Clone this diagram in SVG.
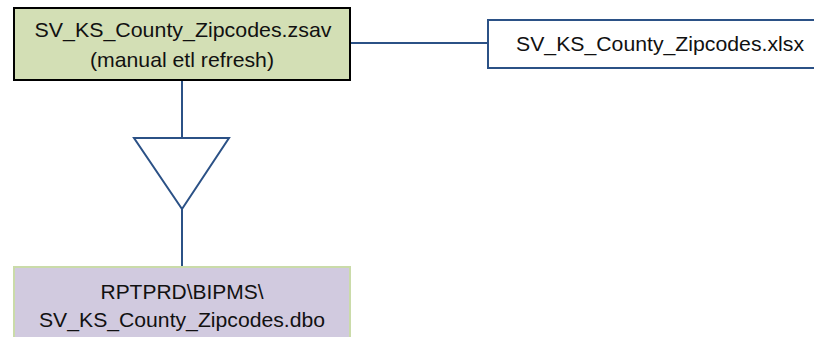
<svg xmlns="http://www.w3.org/2000/svg" width="814" height="337" viewBox="0 0 814 337">
<style>
text{font-family:"Liberation Sans",Arial,sans-serif;font-size:21px;fill:#111;text-anchor:middle}
.conn{stroke:#2B5186;stroke-width:2;fill:none}
</style>
<rect width="814" height="337" fill="#fff"/>
<g id="connectors">
<line class="conn" x1="350" y1="43" x2="488" y2="43"/>
<line class="conn" x1="182" y1="80" x2="182" y2="138"/>
<polygon class="conn" points="134,138 229,138 182,209"/>
<line class="conn" x1="182" y1="209" x2="182" y2="267"/>
</g>
<g id="zsav">
<rect x="14" y="8" width="336" height="72" fill="#D3DFB5" stroke="#000" stroke-width="2"/>
<text x="183" y="37" textLength="297" lengthAdjust="spacingAndGlyphs">SV_KS_County_Zipcodes.zsav</text>
<text x="182" y="67" textLength="184" lengthAdjust="spacingAndGlyphs">(manual etl refresh)</text>
</g>
<g id="xlsx">
<rect x="488" y="20" width="340" height="48" fill="#fff" stroke="#2B5186" stroke-width="2"/>
<text x="660" y="51" textLength="288" lengthAdjust="spacingAndGlyphs">SV_KS_County_Zipcodes.xlsx</text>
</g>
<g id="dbo">
<rect x="14" y="267" width="336" height="80" fill="#D1CADF" stroke="#CADBA9" stroke-width="2"/>
<text x="182" y="299" textLength="163" lengthAdjust="spacingAndGlyphs">RPTPRD\BIPMS\</text>
<text x="182" y="327" textLength="286" lengthAdjust="spacingAndGlyphs">SV_KS_County_Zipcodes.dbo</text>
</g>
</svg>
